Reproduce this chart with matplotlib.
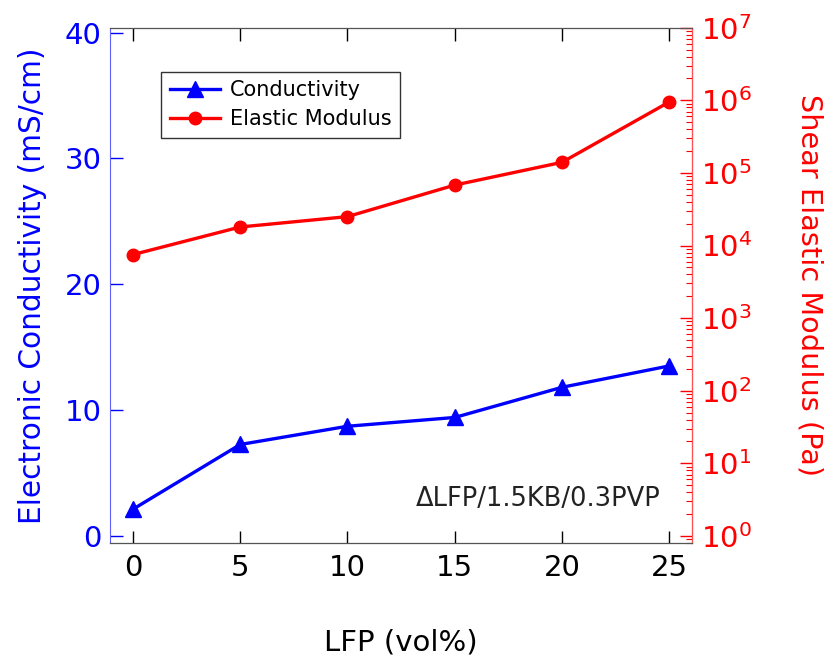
import numpy as np
from matplotlib import pyplot as plt
from matplotlib.ticker import LogLocator, FixedLocator, NullFormatter

# data
lfp = [0, 5, 10, 15, 20, 25]
conductivity = [2.1, 7.25, 8.7, 9.4, 11.8, 13.5]
modulus = [7.5e3, 1.8e4, 2.5e4, 6.8e4, 1.4e5, 9.5e5]

x_ticks = [0, 5, 10, 15, 20, 25]
left_ticks = [0, 10, 20, 30, 40]
right_exps = [0, 1, 2, 3, 4, 5, 6, 7]

plt.rcParams['font.family'] = ['DejaVu Sans']

fig = plt.figure(figsize=(8.3, 6.6), dpi=100)
ax = fig.add_axes([0.1325, 0.177, 0.7015, 0.781])
ax2 = ax.twinx()

l1, = ax.plot(lfp, conductivity, color='blue', lw=2.4, marker='^',
              ms=11, label='Conductivity')
l2, = ax2.plot(lfp, modulus, color='red', lw=2.4, marker='o',
               ms=9, label='Elastic Modulus')

ax.set_xlim(-1.07, 26.07)
ax.set_ylim(-0.6, 40.4)
ax2.set_yscale('log')
ax2.set_ylim(10 ** -0.1, 10 ** 7.0)

ax.xaxis.set_major_locator(FixedLocator(x_ticks))
ax.yaxis.set_major_locator(FixedLocator(left_ticks))
ax2.yaxis.set_major_locator(FixedLocator([10.0 ** e for e in right_exps]))
ax2.set_yticklabels(['$10^{%d}$' % e for e in right_exps])
ax2.yaxis.set_minor_locator(LogLocator(base=10, subs=np.arange(2, 10), numticks=20))
ax2.yaxis.set_minor_formatter(NullFormatter())

ax.tick_params(axis='x', direction='in', length=9, width=1, top=True,
               labelsize=21, colors='black', pad=8)
ax.tick_params(axis='y', direction='in', length=9, width=1,
               labelsize=21, colors='blue', pad=6)
ax2.tick_params(axis='y', which='major', direction='in', length=9, width=1,
                labelsize=21, colors='red', pad=6)
ax2.tick_params(axis='y', which='minor', direction='in', length=4, width=0.8,
                colors='red')

ax.spines['left'].set_color('#6060ff')
ax2.spines['left'].set_visible(False)
ax2.spines['right'].set_color('#ff5050')
ax2.spines['top'].set_color('#555555')
ax2.spines['bottom'].set_color('#555555')

ax.set_xlabel('LFP (vol%)', fontsize=21, labelpad=33)
ax.set_ylabel('Electronic Conductivity (mS/cm)', fontsize=21.3, color='blue',
              labelpad=13)
ax2.set_ylabel('Shear Elastic Modulus (Pa)', fontsize=20.7, color='red',
               rotation=270, labelpad=52)

ax.text(24.6, 2.9, '\u0394LFP/1.5KB/0.3PVP', fontsize=18.5, ha='right',
        va='center', color='#222222')

leg = ax.legend([l1, l2], ['Conductivity', 'Elastic Modulus'],
                loc='upper left', bbox_to_anchor=(0.088, 0.915),
                borderaxespad=0, fontsize=15, frameon=True, fancybox=False,
                edgecolor='black', handlelength=2.4, borderpad=0.4,
                labelspacing=0.45, handletextpad=0.5)
leg.get_frame().set_linewidth(1)

fig.savefig('out.png', dpi=100)
